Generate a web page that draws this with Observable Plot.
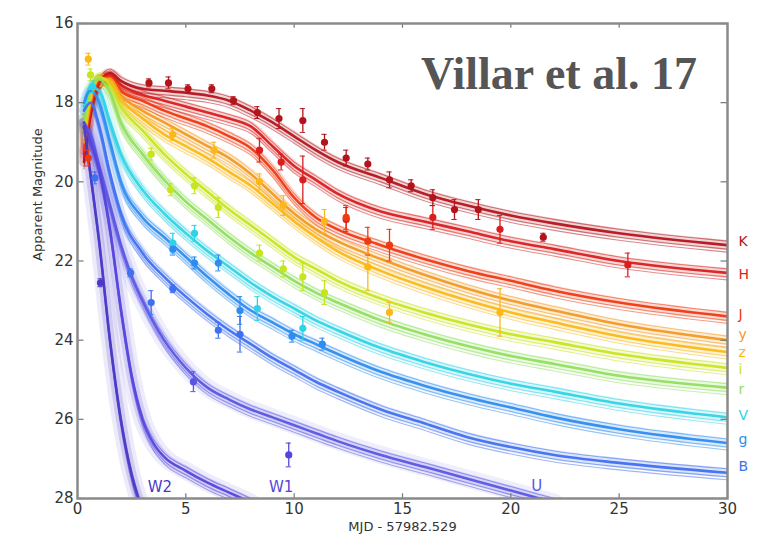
<!DOCTYPE html>
<html>
<head>
<meta charset="utf-8">
<script src="https://cdn.jsdelivr.net/npm/d3@7"></script>
<script src="https://cdn.jsdelivr.net/npm/@observablehq/plot@0.6"></script>
<style>
  html, body { margin: 0; padding: 0; background: #fff; }
  #wrap { position: relative; width: 763px; height: 537px; }
  #title { position: absolute; left: 421px; top: 51px; font: bold 46px "Liberation Serif", serif; color: #555; line-height: 46px; white-space: nowrap; }
</style>
</head>
<body>
<div id="wrap"><div id="title">Villar et al. 17</div></div>
<script>
// ---- bands ----
const bands = ["K", "H", "J", "y", "z", "i", "r", "V", "g", "B", "U", "W1", "W2"];
const bandColors = ["#b3141c", "#d81e1e", "#ee3a10", "#f29a22", "#fbb818", "#c8e41e", "#8fdf5c", "#2fd3e6", "#2e8cf0", "#3f70f0", "#5a55e4", "#5545dc", "#4a38c8"];

// ---- model curves (days since merger, apparent magnitude) ----
const tOpt = [0.3, 0.6, 1, 1.5, 2, 3, 4, 5, 6, 7, 8, 9, 10, 11, 12, 14, 16, 18, 20, 22, 25, 30];
const magK = [19.5, 18.3, 17.5, 17.25, 17.45, 17.65, 17.7, 17.75, 17.82, 17.95, 18.2, 18.5, 18.85, 19.2, 19.5, 19.9, 20.3, 20.6, 20.85, 21.05, 21.3, 21.6];
const magH = [19.3, 18.2, 17.5, 17.3, 17.55, 17.8, 17.95, 18.1, 18.25, 18.4, 18.6, 19.1, 19.6, 19.95, 20.3, 20.75, 21.0, 21.25, 21.5, 21.7, 22.0, 22.3];
const magJ = [19.2, 18.1, 17.45, 17.35, 17.7, 17.95, 18.2, 18.4, 18.6, 18.85, 19.15, 19.7, 20.4, 20.9, 21.2, 21.6, 21.95, 22.25, 22.5, 22.75, 23.05, 23.4];
const magy = [19.0, 18.0, 17.4, 17.4, 17.8, 18.2, 18.5, 18.8, 19.1, 19.4, 19.8, 20.3, 20.8, 21.2, 21.5, 21.95, 22.35, 22.7, 23.0, 23.25, 23.6, 24.0];
const magz = [18.9, 17.9, 17.4, 17.45, 17.9, 18.4, 18.8, 19.1, 19.4, 19.75, 20.1, 20.55, 21.0, 21.4, 21.75, 22.25, 22.65, 23.0, 23.3, 23.55, 23.9, 24.3];
const magi = [18.7, 17.8, 17.35, 17.55, 18.1, 18.7, 19.3, 19.8, 20.25, 20.7, 21.1, 21.5, 21.9, 22.2, 22.5, 22.95, 23.3, 23.6, 23.85, 24.05, 24.35, 24.7];
const magr = [18.5, 17.7, 17.4, 17.75, 18.5, 19.3, 19.95, 20.5, 20.95, 21.4, 21.8, 22.15, 22.5, 22.8, 23.05, 23.5, 23.85, 24.15, 24.4, 24.6, 24.9, 25.2];
const magV = [18.2, 17.6, 17.7, 18.5, 19.3, 20.2, 20.8, 21.3, 21.75, 22.15, 22.55, 22.9, 23.2, 23.5, 23.75, 24.2, 24.55, 24.85, 25.1, 25.3, 25.6, 25.95];
const magg = [18.0, 17.7, 18.0, 19.0, 20.0, 20.9, 21.4, 21.9, 22.4, 22.85, 23.25, 23.55, 23.85, 24.1, 24.35, 24.8, 25.15, 25.45, 25.7, 25.95, 26.25, 26.6];
const magB = [18.2, 18.0, 18.6, 19.8, 20.8, 21.8, 22.4, 22.9, 23.35, 23.75, 24.1, 24.45, 24.75, 25.05, 25.3, 25.75, 26.1, 26.45, 26.7, 26.9, 27.1, 27.35];
const tU = [0.3, 0.6, 1, 1.5, 2, 2.5, 3, 4, 5, 6, 7, 8, 9, 10, 11, 12, 14, 16, 18, 20, 22];
const magU = [18.5, 18.8, 19.6, 20.6, 21.6, 22.4, 23.0, 24.0, 24.7, 25.2, 25.5, 25.75, 25.95, 26.15, 26.35, 26.55, 26.9, 27.2, 27.5, 27.8, 28.1];
const tW1 = [0.3, 0.6, 1, 1.5, 2, 2.5, 3, 3.5, 4, 5, 6, 7, 8];
const magW1 = [18.5, 19.0, 19.7, 21.2, 23.2, 24.9, 26.0, 26.6, 26.95, 27.3, 27.6, 27.85, 28.1];
const tW2 = [0.3, 0.6, 1, 1.5, 2, 2.5, 3];
const magW2 = [18.6, 19.8, 21.5, 24.0, 26.0, 27.4, 28.3];

// ---- observations ----
const obsBand = ["K","K","K","K","K","K","K","K","K","K","K","K","K","K","K","K","K",
  "H","H","H","H","H","H","H","J","J","J","J",
  "z","z","z","z","z","z","z","z","z",
  "i","i","i","i","i","i","i","i","i",
  "V","V","V","V","V",
  "g","g","g","g","g","g",
  "B","B","B","B","B","B",
  "U","W1","W2"];
const obsT = [3.3, 4.2, 5.1, 6.2, 7.2, 8.3, 9.3, 10.4, 11.4, 12.4, 13.4, 14.4, 15.4, 16.4, 17.4, 18.5, 21.5,
  8.4, 9.4, 10.4, 12.4, 16.4, 19.5, 25.4, 12.4, 13.4, 14.4, 0.5,
  0.5, 4.4, 8.4, 9.5, 11.4, 13.4, 14.4, 19.5, 6.3,
  3.4, 4.3, 5.4, 6.5, 8.4, 9.5, 10.4, 11.4, 0.6,
  4.4, 5.4, 8.3, 10.4, 0.7,
  4.4, 5.4, 6.5, 7.5, 9.9, 11.3,
  2.45, 3.4, 4.4, 6.5, 7.5, 0.8,
  5.35, 9.75, 1.06];
const obsMag = [17.5, 17.5, 17.65, 17.65, 17.95, 18.25, 18.4, 18.45, 19.0, 19.4, 19.55, 19.95, 20.1, 20.4, 20.7, 20.7, 21.4,
  19.2, 19.5, 19.95, 20.95, 20.9, 21.2, 22.1, 20.9, 21.5, 21.6, 19.4,
  16.9, 18.8, 20.0, 20.6, 21.0, 22.15, 23.3, 23.3, 19.2,
  19.3, 20.2, 20.1, 20.65, 21.8, 22.2, 22.4, 22.8, 17.3,
  21.55, 21.3, 23.2, 23.7, 17.6,
  21.7, 22.05, 22.05, 23.25, 23.9, 24.1,
  22.3, 23.05, 22.7, 23.75, 23.85, 19.9,
  25.05, 26.9, 22.55];
const obsErr = [0.1, 0.15, 0.1, 0.1, 0.1, 0.15, 0.25, 0.3, 0.2, 0.2, 0.15, 0.2, 0.15, 0.2, 0.25, 0.25, 0.1,
  0.3, 0.2, 0.6, 0.3, 0.3, 0.35, 0.3, 0.3, 0.35, 0.4, 0.2,
  0.15, 0.15, 0.2, 0.25, 0.3, 0.6, 0.25, 0.6, 0.2,
  0.15, 0.15, 0.2, 0.25, 0.2, 0.2, 0.35, 0.3, 0.15,
  0.25, 0.2, 0.3, 0.3, 0.15,
  0.15, 0.15, 0.2, 0.35, 0.15, 0.15,
  0.1, 0.3, 0.1, 0.2, 0.45, 0.15,
  0.25, 0.3, 0.1];

// ---- labels ----
const sideBands = ["K", "H", "J", "y", "z", "i", "r", "V", "g", "B"];
const sideLabels = ["K", "H", "J", "y", "z", "i", "r", "V", "g", "B"];
const sideMag = [21.5, 22.35, 23.35, 23.85, 24.3, 24.75, 25.25, 25.9, 26.5, 27.2];
const bottomBands = ["U", "W1", "W2"];
const bottomT = [21.2, 9.4, 3.8];
const bottomMag = [27.7, 27.72, 27.72];

const xTicks = [0, 5, 10, 15, 20, 25, 30];
const yTicks = [16, 18, 20, 22, 24, 26, 28];

// ---- build tables ----
const curveSets = [
  ["K", tOpt, magK], ["H", tOpt, magH], ["J", tOpt, magJ], ["y", tOpt, magy], ["z", tOpt, magz],
  ["i", tOpt, magi], ["r", tOpt, magr], ["V", tOpt, magV], ["g", tOpt, magg], ["B", tOpt, magB],
  ["U", tU, magU], ["W1", tW1, magW1], ["W2", tW2, magW2]
];
const curves = curveSets.flatMap(([band, ts, ms]) => ts.map((t, i) => ({band, t, mag: ms[i]})));
const obs = obsBand.map((b, i) => ({band: b, t: obsT[i], mag: obsMag[i], lo: obsMag[i] - obsErr[i], hi: obsMag[i] + obsErr[i]}));
const side = sideBands.map((b, i) => ({band: b, label: sideLabels[i], mag: sideMag[i]}));
const bottom = bottomBands.map((b, i) => ({band: b, t: bottomT[i], mag: bottomMag[i]}));

const uvBands = new Set(["U", "W1", "W2"]);
const curvesUV = curves.filter(d => uvBands.has(d.band));

const lineOpts = (extra) => Object.assign({x: "t", y: "mag", z: "band", stroke: "band", curve: "monotone-x", clip: true}, extra);

const chart = Plot.plot({
  width: 763,
  height: 537,
  marginLeft: 77,
  marginRight: 36,
  marginTop: 23,
  marginBottom: 39,
  style: {fontFamily: "DejaVu Sans, sans-serif", fontSize: "15px", color: "#333", background: "transparent"},
  x: {domain: [0, 30], ticks: xTicks, tickSize: 0, tickPadding: 5, label: null},
  y: {domain: [16, 28], reverse: true, ticks: yTicks, tickSize: 0, tickPadding: 4, label: null},
  color: {domain: bands, range: bandColors},
  marks: [
    // wide translucent envelopes
    Plot.line(curvesUV, lineOpts({strokeWidth: 18, strokeOpacity: 0.1})),
    Plot.line(curves, lineOpts({strokeWidth: 10, strokeOpacity: 0.18})),
    // bundles of model lines
    Plot.line(curves, lineOpts({strokeWidth: 1.1, strokeOpacity: 0.55, dy: -4})),
    Plot.line(curves, lineOpts({strokeWidth: 1.1, strokeOpacity: 0.55, dy: 4})),
    Plot.line(curves, lineOpts({strokeWidth: 1.1, strokeOpacity: 0.5, dy: 7})),
    Plot.line(curves, lineOpts({strokeWidth: 2.6, strokeOpacity: 0.95})),
    // observations with error bars
    Plot.ruleX(obs, {x: "t", y1: "lo", y2: "hi", stroke: "band", strokeWidth: 1.3}),
    Plot.ruleY(obs, {y: "lo", x1: d => d.t - 0.12, x2: d => d.t + 0.12, stroke: "band", strokeWidth: 1}),
    Plot.ruleY(obs, {y: "hi", x1: d => d.t - 0.12, x2: d => d.t + 0.12, stroke: "band", strokeWidth: 1}),
    Plot.dot(obs, {x: "t", y: "mag", fill: "band", r: 3.6}),
    // frame ticks (inward)
    Plot.ruleY(yTicks, {y: d => d, x1: 0, x2: 0.3, stroke: "#777", strokeWidth: 1.2}),
    Plot.ruleY(yTicks, {y: d => d, x1: 29.7, x2: 30, stroke: "#777", strokeWidth: 1.2}),
    Plot.ruleX(xTicks, {x: d => d, y1: 16, y2: 16.12, stroke: "#777", strokeWidth: 1.2}),
    Plot.ruleX(xTicks, {x: d => d, y1: 27.88, y2: 28, stroke: "#777", strokeWidth: 1.2}),
    Plot.frame({stroke: "#8a8a8a", strokeWidth: 2.5}),
    // band labels
    Plot.text(side, {x: () => 30, y: "mag", text: "label", fill: "band", dx: 11, textAnchor: "start", fontSize: 14}),
    Plot.text(bottom, {x: "t", y: "mag", text: "band", fill: "band", fontSize: 15}),
    // axis titles
    Plot.text(["Apparent Magnitude"], {frameAnchor: "left", dx: -40, rotate: -90, fontSize: 13, fill: "#333"}),
    Plot.text(["MJD - 57982.529"], {frameAnchor: "bottom", dy: 32, fontSize: 13, fill: "#333"})
  ]
});
document.getElementById("wrap").prepend(chart);
</script>
</body>
</html>
